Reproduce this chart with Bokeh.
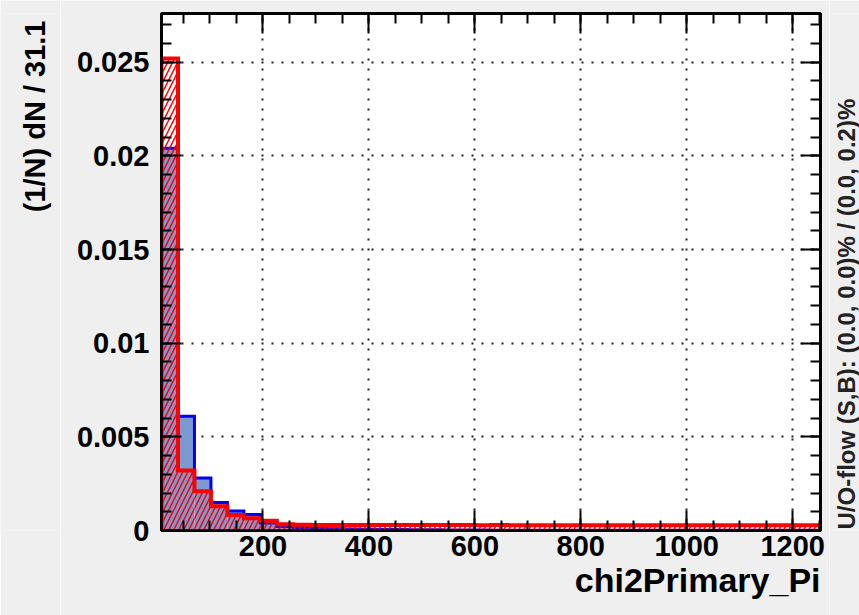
import math
import numpy as np
from bokeh.plotting import figure
from bokeh.layouts import row
from bokeh.models import LinearAxis, FixedTicker, SingleIntervalTicker, Range1d, Label, Title
from bokeh.embed import file_html
from bokeh.resources import INLINE

# ---------------- data ----------------
bin_width = 31.1
x_start = 8.5

signal = [0.0204, 0.0061, 0.0028, 0.0015, 0.00104, 0.00086, 0.0004, 0.00022,
          0.00016, 0.00012, 0.0001, 0.00008, 0.00007, 0.00006, 0.00005, 0.00004,
          0.00004, 0.00003, 0.00003, 0.00003, 0.00002, 0.00002, 0.00002, 0.00002,
          0.00001, 0.00001, 0.00001, 0.00001, 0.00001, 0.00001, 0.00001, 0.00001,
          0.00001, 0.00001, 0.00001, 0.00001, 0.00001, 0.00001, 0.00001, 0.00001]

background = [0.0252, 0.0032, 0.0021, 0.0013, 0.00083, 0.00066, 0.00052, 0.00034,
              0.00031, 0.0003, 0.0003, 0.0003, 0.00029, 0.0003, 0.00029, 0.00029,
              0.00029, 0.00029, 0.00029, 0.00028, 0.00029, 0.00028, 0.00028, 0.00028,
              0.00028, 0.00028, 0.00028, 0.00028, 0.00028, 0.00028, 0.00028, 0.00028,
              0.00028, 0.00028, 0.00028, 0.00028, 0.00028, 0.00028, 0.00028, 0.00028]

y_ticks = [0, 0.005, 0.01, 0.015, 0.02, 0.025]
y_tick_labels = ["0", "0.005", "0.01", "0.015", "0.02", "0.025"]
y_max = 0.0276

x_title = "chi2Primary_Pi"
y_title = "(1/N) dN / 31.1"
flow_text = "U/O-flow (S,B): (0.0, 0.0)% / (0.0, 0.2)%"

n_bins = len(signal)
edges = x_start + bin_width * np.arange(n_bins + 1)
x_end = float(edges[-1])

def outline(vals):
    xs = np.repeat(edges, 2)
    ys = np.concatenate([[0.0], np.repeat(np.asarray(vals, dtype=float), 2), [0.0]])
    return xs, ys

FONT = "Liberation Sans"
BG = "#efefef"
H = 615
LEFT_W = 60
RIGHT_W = 30
MAIN_W = 859 - LEFT_W - RIGHT_W
FRAME_BOTTOM = 530  # canvas pixel row of the frame bottom

p = figure(width=MAIN_W, height=H, output_backend="svg", toolbar_location=None,
           x_range=Range1d(x_start, x_end), y_range=Range1d(0, y_max),
           min_border_left=161 - LEFT_W, min_border_right=9, min_border_top=13,
           min_border_bottom=H - FRAME_BOTTOM)
p.background_fill_color = "white"
p.border_fill_color = BG
p.outline_line_color = "black"
p.outline_line_width = 3

# histograms
p.quad(left=edges[:-1], right=edges[1:], bottom=0, top=signal,
       fill_color="#7d99d1", line_color=None)
sx, sy = outline(signal)
p.line(sx, sy, line_color="#0000ff", line_width=3, line_join="miter")

p.quad(left=edges[:-1], right=edges[1:], bottom=0, top=background,
       fill_color=None, line_color=None, hatch_pattern="/", hatch_color="#ff0000",
       hatch_scale=10, hatch_weight=1.5)
bx, by = outline(background)
p.line(bx, by, line_color="#ff0000", line_width=4, line_join="miter")

# axes
xt = SingleIntervalTicker(interval=200, num_minor_ticks=4)
yt = FixedTicker(ticks=y_ticks, minor_ticks=list(np.arange(0, y_max, 0.001)))

def style_axis(ax, labels=True):
    ax.axis_line_color = "black"
    ax.axis_line_width = 2.5
    ax.major_tick_in = 20
    ax.major_tick_out = 0
    ax.minor_tick_in = 10
    ax.minor_tick_out = 0
    ax.major_tick_line_color = "black"
    ax.minor_tick_line_color = "black"
    ax.major_tick_line_width = 2
    ax.minor_tick_line_width = 2
    if labels:
        ax.major_label_text_font = FONT
        ax.major_label_text_font_style = "bold"
        ax.major_label_text_font_size = "29px"
        ax.major_label_text_color = "black"
    else:
        ax.major_label_text_font_size = "0px"
        ax.major_label_text_color = None

xa = p.xaxis[0]
xa.ticker = xt
xa.major_label_standoff = 5
style_axis(xa)
ya = p.yaxis[0]
ya.ticker = yt
ya.major_label_overrides = dict(zip(y_ticks, y_tick_labels))
ya.major_label_standoff = 12
style_axis(ya)

top_ax = LinearAxis(ticker=xt, major_label_standoff=0)
style_axis(top_ax, labels=False)
p.add_layout(top_ax, "above")
right_ax = LinearAxis(ticker=yt, major_label_standoff=0)
style_axis(right_ax, labels=False)
p.add_layout(right_ax, "right")

# grid
p.xgrid.ticker = xt
p.ygrid.ticker = yt
for g in (p.xgrid, p.ygrid):
    g.grid_line_color = "#222222"
    g.grid_line_width = 2
    g.grid_line_dash = "2 8"

# x-axis title, right aligned under the frame (a thin blank title pushes it down)
p.add_layout(Title(text=" ", text_font_size="5px", standoff=0, text_color=None), "below")
p.add_layout(Title(text=x_title, align="right", vertical_align="bottom",
                   standoff=0, offset=0, text_font=FONT, text_font_style="bold",
                   text_font_size="34px", text_color="black"), "below")

# side strips holding the rotated texts (their frames align with the main frame)
def strip(width):
    s = figure(width=width, height=H, output_backend="svg", toolbar_location=None,
               x_axis_location=None, y_axis_location=None,
               x_range=Range1d(0, 1), y_range=Range1d(0, 1),
               min_border=0, min_border_left=0, min_border_right=0,
               min_border_top=0, min_border_bottom=0)
    s.outline_line_color = None
    s.background_fill_color = BG
    s.border_fill_color = BG
    s.grid.visible = False
    return s

left_strip = strip(LEFT_W)
left_strip.add_layout(Label(x=34, y=FRAME_BOTTOM - 20, x_units="screen", y_units="screen",
                            text=y_title, angle=math.pi / 2, text_align="right",
                            text_baseline="middle", text_font=FONT,
                            text_font_style="bold", text_font_size="29px",
                            text_color="black"))

right_strip = strip(RIGHT_W)
right_strip.add_layout(Label(x=846 - (LEFT_W + MAIN_W), y=1, x_units="screen",
                             y_units="screen", text=flow_text, angle=math.pi / 2,
                             text_align="left", text_baseline="middle",
                             text_font=FONT, text_font_style="bold",
                             text_font_size="24px", text_color="#222222"))

layout = row(left_strip, p, right_strip)
open("out.html", "w").write(file_html(layout, INLINE))
